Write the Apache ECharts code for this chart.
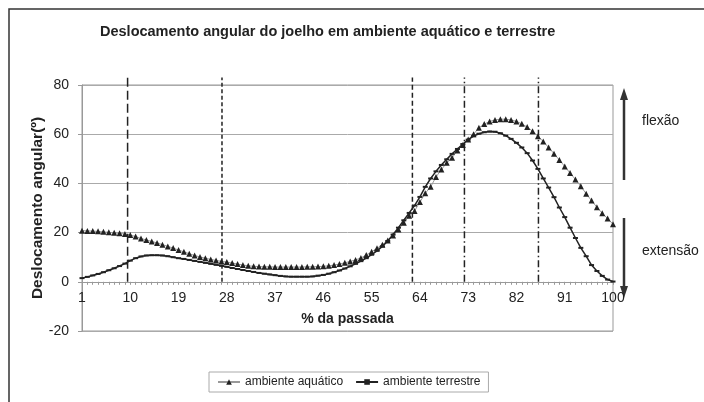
<!DOCTYPE html>
<html>
<head>
<meta charset="utf-8">
<script src="https://cdn.jsdelivr.net/npm/echarts@6/dist/echarts.min.js"></script>
<style>
  html, body { margin: 0; padding: 0; background: #fff; }
  #chart { width: 704px; height: 402px; }
</style>
</head>
<body>
<div id="chart"></div>
<script>
  // eixo x: % da passada (1..100)
  var passada = [];
  for (var i = 1; i <= 100; i++) passada.push(String(i));

  // deslocamento angular (graus)
  var aquatico = [
    20.8, 20.7, 20.6, 20.5, 20.3, 20.1, 19.9, 19.7, 19.4, 19.0,
    18.4, 17.6, 17.0, 16.4, 15.8, 15.1, 14.4, 13.7, 12.9, 12.2,
    11.4, 10.7, 10.1, 9.6, 9.1, 8.7, 8.3, 8.0, 7.6, 7.2,
    6.8, 6.5, 6.3, 6.2, 6.1, 6.1, 6.0, 6.0, 6.0, 6.0,
    6.0, 6.0, 6.1, 6.1, 6.2, 6.3, 6.5, 6.8, 7.2, 7.7,
    8.3, 8.9, 9.7, 10.9, 12.2, 13.6, 15.1, 16.8, 18.8, 21.3,
    24.0, 26.8, 28.8, 32.4, 36.0, 38.6, 42.6, 45.6, 48.4, 50.4,
    53.4, 55.6, 57.8, 60.0, 62.6, 64.1, 65.2, 65.8, 66.1, 66.1,
    65.8, 65.2, 64.2, 62.9, 61.2, 59.2, 57.0, 54.6, 52.1, 49.5,
    46.9, 44.2, 41.6, 38.8, 35.8, 33.0, 30.3, 27.9, 25.7, 23.4
  ];
  var terrestre = [
    1.5, 2.0, 2.6, 3.2, 3.9, 4.7, 5.5, 6.4, 7.4, 8.6,
    9.6, 10.3, 10.7, 10.8, 10.8, 10.7, 10.4, 10.0, 9.6, 9.3,
    8.9, 8.5, 8.1, 7.7, 7.3, 6.9, 6.5, 6.1, 5.6, 5.2,
    4.8, 4.4, 4.0, 3.6, 3.3, 3.0, 2.7, 2.4, 2.2, 2.1,
    2.1, 2.1, 2.1, 2.2, 2.5, 2.8, 3.3, 3.9, 4.6, 5.4,
    6.3, 7.3, 8.4, 9.6, 11.0, 12.6, 14.4, 16.6, 19.2, 22.0,
    25.0, 28.0, 31.0, 34.5, 38.6, 42.0, 44.9, 47.5, 49.8, 52.0,
    54.0, 56.0, 57.8, 59.2, 60.2, 60.8, 61.1, 61.0, 60.4, 59.4,
    58.1, 56.5, 54.6, 52.3, 49.3, 45.9, 42.0, 38.3, 34.4, 30.2,
    26.3, 22.0, 17.8, 13.8, 10.4, 6.8, 4.4, 2.4, 0.9, 0.1
  ];

  // linhas verticais das fases da passada
  var fases = [9.5, 27.1, 62.6, 72.3, 86.1];
  var fasesTopo = 83;
  var tracos = [[9, 4], [4, 2.5], [5, 3], [7, 3, 1.5, 3], [7, 3, 1.5, 3]];

  var fonte = '"Liberation Sans", Arial, sans-serif';
  var chart = echarts.init(document.getElementById('chart'));

  var series = [
    {
      name: 'ambiente aquático',
      type: 'line',
      data: aquatico,
      symbol: 'triangle',
      symbolSize: 6,
      showAllSymbol: true,
      itemStyle: { color: '#222' },
      lineStyle: { color: '#999', width: 1 },
      z: 3
    },
    {
      name: 'ambiente terrestre',
      type: 'line',
      data: terrestre,
      symbol: 'rect',
      symbolSize: [5, 2],
      showAllSymbol: true,
      itemStyle: { color: '#222' },
      lineStyle: { color: '#222', width: 1.5 },
      z: 4
    }
  ];
  fases.forEach(function (x, k) {
    series.push({
      type: 'line',
      xAxisIndex: 1,
      data: [[x, 0], [x, fasesTopo]],
      symbol: 'none',
      clip: false,
      silent: true,
      lineStyle: { color: '#222', width: 1.5, type: tracos[k] },
      z: 5
    });
  });

  var option = {
    animation: false,
    backgroundColor: '#fff',
    title: {
      text: 'Deslocamento angular do joelho em ambiente aquático e terrestre',
      left: 100,
      top: 24,
      padding: 0,
      textStyle: { fontSize: 14.5, fontWeight: 'bold', color: '#222', fontFamily: fonte }
    },
    legend: {
      data: ['ambiente aquático', 'ambiente terrestre'],
      left: 209,
      top: 372,
      borderColor: '#aaa',
      borderWidth: 1,
      borderRadius: 0,
      padding: [4, 8, 4, 8],
      itemGap: 12,
      itemWidth: 22,
      itemHeight: 7,
      textStyle: { fontSize: 12, color: '#222', fontFamily: fonte }
    },
    grid: {
      left: 82,
      right: 91,
      top: 85,
      bottom: 71,
      show: true,
      borderColor: '#999',
      borderWidth: 1
    },
    xAxis: [
      {
        type: 'category',
        data: passada,
        boundaryGap: false,
        position: 'bottom',
        offset: -49.2,   // eixo sobre a linha do zero
        axisLine: { onZero: false, lineStyle: { color: '#999' } },
        axisTick: { interval: 0, length: 3, lineStyle: { color: '#999' } },
        axisLabel: { interval: 8, color: '#222', fontSize: 14, fontFamily: fonte, margin: 9 },
        splitLine: { show: false },
        name: '% da passada',
        nameLocation: 'middle',
        nameGap: 30,
        nameMoveOverlap: false,
        nameTextStyle: { fontSize: 14, fontWeight: 'bold', color: '#222', fontFamily: fonte }
      },
      { type: 'value', min: 1, max: 100, show: false }
    ],
    yAxis: {
      type: 'value',
      min: -20,
      max: 80,
      interval: 20,
      axisLine: { show: true, lineStyle: { color: '#999' } },
      axisTick: { show: true, length: 4, lineStyle: { color: '#999' } },
      axisLabel: { color: '#222', fontSize: 14, fontFamily: fonte, margin: 13 },
      splitLine: { lineStyle: { color: '#aaa' } },
      name: 'Deslocamento angular(º)',
      nameLocation: 'middle',
      nameGap: 36,
      nameMoveOverlap: false,
      nameTextStyle: { fontSize: 15.5, fontWeight: 'bold', color: '#222', fontFamily: fonte }
    },
    graphic: [
      { type: 'rect', silent: true, z: -10, shape: { x: 9, y: 9, width: 720, height: 420 },
        style: { fill: 'none', stroke: '#333', lineWidth: 1.5 } },
      { type: 'line', silent: true, shape: { x1: 624, y1: 98, x2: 624, y2: 180 },
        style: { stroke: '#333', lineWidth: 2.5 } },
      { type: 'polygon', silent: true, shape: { points: [[624, 88], [620, 100], [628, 100]] },
        style: { fill: '#333' } },
      { type: 'line', silent: true, shape: { x1: 624, y1: 218, x2: 624, y2: 288 },
        style: { stroke: '#333', lineWidth: 2.5 } },
      { type: 'polygon', silent: true, shape: { points: [[624, 298], [620, 286], [628, 286]] },
        style: { fill: '#333' } },
      { type: 'text', silent: true, left: 642, top: 114,
        style: { text: 'flexão', font: '14px "Liberation Sans", Arial, sans-serif', fill: '#222' } },
      { type: 'text', silent: true, left: 642, top: 244,
        style: { text: 'extensão', font: '14px "Liberation Sans", Arial, sans-serif', fill: '#222' } }
    ],
    series: series
  };

  chart.setOption(option);
  window.onresize = function () {
    chart.resize();
  };
</script>
</body>
</html>
